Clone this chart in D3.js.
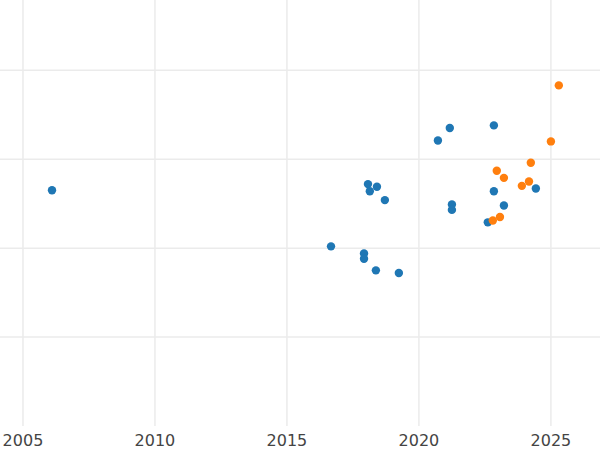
<!DOCTYPE html>
<html><head><meta charset="utf-8">
<script src="https://cdn.jsdelivr.net/npm/d3@7"></script>
<style>body{margin:0;background:#fff}</style></head>
<body><svg id="c" width="600" height="450"></svg>
<script>
const blueX=[2006.10,2016.67,2017.92,2017.92,2018.37,2019.24,2018.07,2018.14,2018.41,2018.71,2020.72,2021.17,2021.25,2021.25,2022.61,2022.84,2022.84,2023.22,2024.43];
const blueY=[1.65,1.02,0.94,0.88,0.75,0.72,1.72,1.64,1.69,1.54,2.21,2.35,1.49,1.43,1.29,2.38,1.64,1.48,1.67];
const orangeX=[2025.30,2025.0,2024.24,2022.95,2023.22,2024.17,2023.90,2023.07,2022.80];
const orangeY=[2.83,2.20,1.96,1.87,1.79,1.75,1.70,1.35,1.31];
const xTicks=[2005,2010,2015,2020,2025];
const yTicks=[0,1,2,3];
const svg=d3.select("#c");
const x=d3.scaleLinear().domain([2004.13,2026.86]).range([0,600]);
const y=d3.scaleLinear().domain([-1,3.79]).range([426,0]);
svg.append("g").selectAll("line").data(xTicks).join("line")
 .attr("x1",d=>x(d)).attr("x2",d=>x(d)).attr("y1",0).attr("y2",426)
 .attr("stroke","#ebebeb").attr("stroke-width",1.5);
svg.append("g").selectAll("line").data(yTicks).join("line")
 .attr("x1",0).attr("x2",600).attr("y1",d=>y(d)).attr("y2",d=>y(d))
 .attr("stroke","#ebebeb").attr("stroke-width",1.5);
svg.append("g").selectAll("text").data(xTicks).join("text")
 .attr("x",d=>x(d)).attr("y",446).attr("text-anchor","middle")
 .attr("font-family","DejaVu Sans").attr("font-size",16).attr("fill","#444").text(d=>d);
function pts(xs,ys,c){svg.append("g").selectAll("circle").data(xs).join("circle")
 .attr("cx",d=>x(d)).attr("cy",(d,i)=>y(ys[i])).attr("r",4.2).attr("fill",c);}
pts(blueX,blueY,"#1f77b4");
pts(orangeX,orangeY,"#ff7f0e");
</script></body></html>
